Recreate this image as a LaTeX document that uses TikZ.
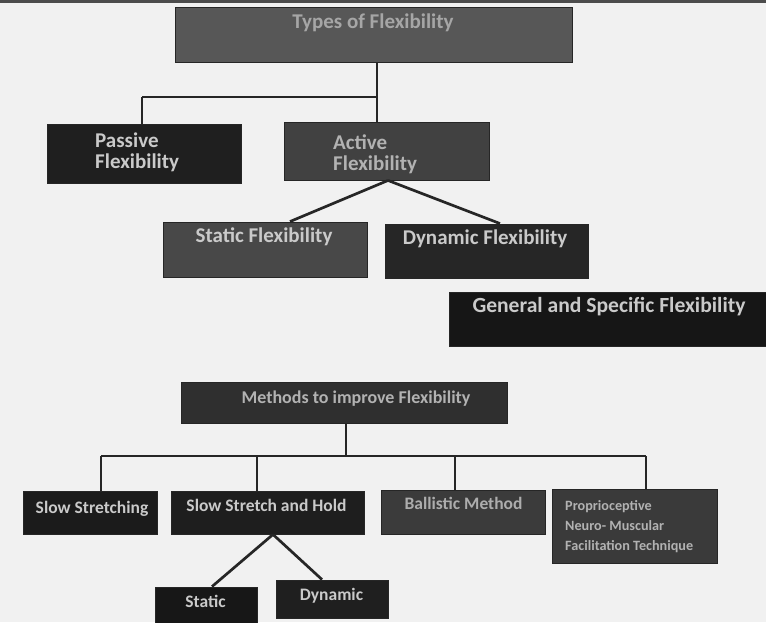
\documentclass[tikz,border=0pt]{standalone}
\usepackage{fontspec}
\setmainfont{Carlito}
\definecolor{bg}{HTML}{F1F1F1}
\definecolor{ink}{HTML}{262626}
\definecolor{txtc}{HTML}{CACACA}
\begin{document}
\begin{tikzpicture}[x=1pt,y=-1pt,
  bx/.style={draw=black!85, line width=0.9pt, inner sep=0pt, minimum width=#1},
  conn/.style={draw=ink, line width=2.7pt},
  txt/.style={text=txtc, inner sep=0pt, font=\bfseries},
  big/.style={font=\bfseries\fontsize{21}{21}\selectfont},
  mid/.style={font=\bfseries\fontsize{17.5}{20}\selectfont},
  sml/.style={font=\bfseries\fontsize{14.2}{20}\selectfont}]
\fill[bg] (0,0) rectangle (766,622);
\useasboundingbox (0,0) rectangle (766,622);
\fill[black!70] (0,0) rectangle (766,2.5);

% boxes
\node[bx=397pt, minimum height=55pt, fill={rgb,255:red,87;green,87;blue,87}] (types) at (373.5,34.5) {};
\node[bx=194pt, minimum height=59pt, fill={rgb,255:red,31;green,31;blue,31}] (passive) at (144,153.5) {};
\node[bx=205pt, minimum height=58pt, fill={rgb,255:red,65;green,65;blue,65}] (active) at (386.5,151) {};
\node[bx=204pt, minimum height=55pt, fill={rgb,255:red,72;green,72;blue,72}] (sflex) at (265,249.5) {};
\node[bx=203pt, minimum height=54pt, fill={rgb,255:red,38;green,38;blue,38}] (dflex) at (486.5,251) {};
\node[bx=322pt, minimum height=54pt, fill={rgb,255:red,22;green,22;blue,22}] (general) at (610,319) {};
\node[bx=326pt, minimum height=41pt, fill={rgb,255:red,47;green,47;blue,47}] (methods) at (344,402.5) {};
\node[bx=134pt, minimum height=43pt, fill={rgb,255:red,27;green,27;blue,27}] (ss) at (90,512.5) {};
\node[bx=193pt, minimum height=43pt, fill={rgb,255:red,30;green,30;blue,30}] (ssh) at (267.5,512.5) {};
\node[bx=164pt, minimum height=44pt, fill={rgb,255:red,59;green,59;blue,59}] (ball) at (463,512) {};
\node[bx=165pt, minimum height=74pt, fill={rgb,255:red,58;green,58;blue,58}] (prop) at (634.5,526) {};
\node[bx=102pt, minimum height=40pt, fill={rgb,255:red,23;green,23;blue,23}] (st) at (206,607) {};
\node[bx=112pt, minimum height=38pt, fill={rgb,255:red,31;green,31;blue,31}] (dy) at (332,599) {};

% texts
\node[txt, big, anchor=mid, text=black!35] (t1) at (373,26) {Types of Flexibility};
\node[txt, big, anchor=west, align=left] (t2) at (95,152.5) {Passive\\Flexibility};
\node[txt, big, anchor=west, align=left, text=black!30] (t3) at (333,154) {Active\\Flexibility};
\node[txt, big, anchor=mid] (t4) at (264,240) {Static Flexibility};
\node[txt, big, anchor=mid] (t5) at (485,242) {Dynamic Flexibility};
\node[txt, anchor=mid, font=\bfseries\fontsize{21.6}{22}\selectfont] (t6) at (609,310) {General and Specific Flexibility};
\node[txt, anchor=mid, text=black!30, font=\bfseries\fontsize{18}{20}\selectfont] (t7) at (356,401) {Methods to improve Flexibility};
\node[txt, mid, anchor=mid] (t8) at (92,511) {Slow Stretching};
\node[txt, mid, anchor=mid] (t9) at (266.5,509) {Slow Stretch and Hold};
\node[txt, mid, anchor=mid, text=black!32] (t10) at (463.5,507) {Ballistic Method};
\node[txt, sml, anchor=west, align=left, text=black!30] (t11) at (565,527) {Proprioceptive\\Neuro- Muscular\\Facilitation Technique};
\node[txt, mid, anchor=mid] (t12) at (205.5,605) {Static};
\node[txt, mid, anchor=mid] (t13) at (331.5,598) {Dynamic};

% connectors, top tree
\coordinate (j1) at (377,97);
\coordinate (j0) at (142,97);
\draw[conn] (types.south -| j1) -- (j1);
\draw[conn] (j0) -- (j1);
\draw[conn] (j0) -- (j0 |- passive.north);
\draw[conn] (j1) -- (j1 |- active.north);
\draw[conn] ([xshift=1.5pt]active.south) -- ([xshift=25pt]sflex.north);
\draw[conn] ([xshift=1.5pt]active.south) -- ([xshift=13.5pt]dflex.north);

% connectors, bottom tree
\coordinate (b1) at (101,456);
\coordinate (b2) at (257,456);
\coordinate (b3) at (455,456);
\coordinate (b4) at (646,456);
\draw[conn] ([xshift=2pt]methods.south) -- ([xshift=2pt]methods.south |- b1);
\draw[conn] (b1) -- (b4);
\draw[conn] (b1) -- (b1 |- ss.north);
\draw[conn] (b2) -- (b2 |- ssh.north);
\draw[conn] (b3) -- (b3 |- ball.north);
\draw[conn] (b4) -- (b4 |- prop.north);
\draw[conn] ([xshift=5.5pt]ssh.south) -- ([xshift=6pt]st.north);
\draw[conn] ([xshift=5.5pt]ssh.south) -- ([xshift=-10pt]dy.north);
\end{tikzpicture}
\end{document}
